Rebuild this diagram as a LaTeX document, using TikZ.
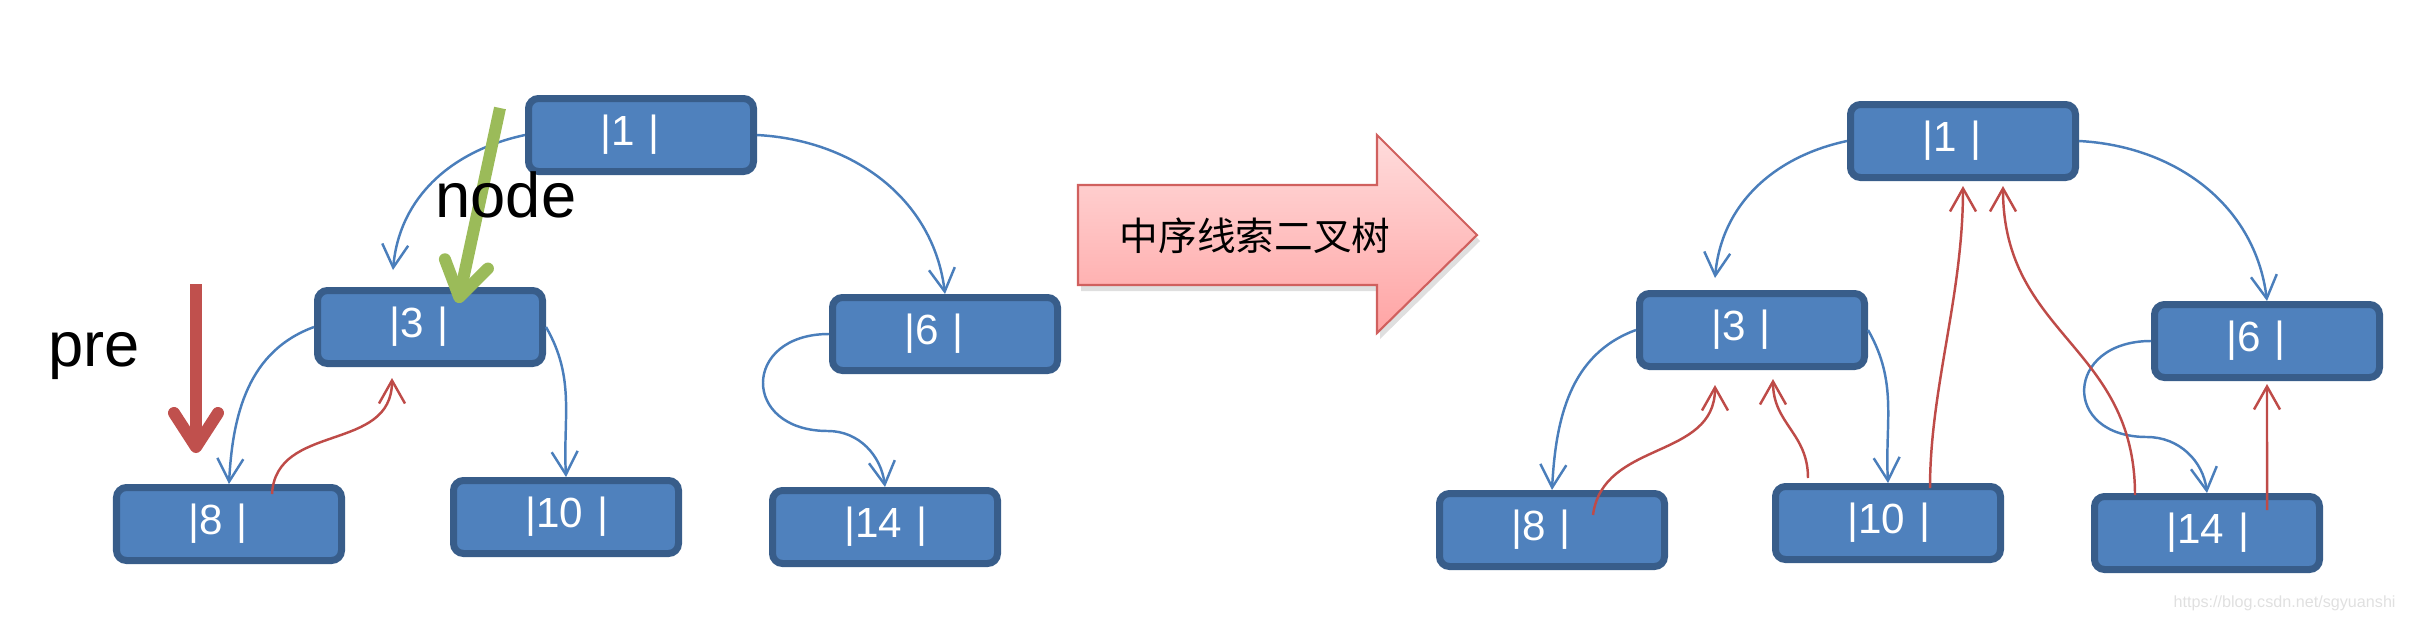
\documentclass[tikz,border=0pt]{standalone}
\usepackage{fontspec}
\setmainfont{Liberation Sans}
\newfontfamily\cjk{Noto Sans CJK SC}
\usetikzlibrary{arrows.meta,shadows}
\definecolor{nodeblue}{HTML}{4F81BD}
\definecolor{nodeedge}{HTML}{385D8A}
\definecolor{linkblue}{HTML}{4A7EBB}
\definecolor{linkred}{HTML}{BE4B48}
\definecolor{prered}{HTML}{C0504D}
\definecolor{nodegreen}{HTML}{9BBB59}
\definecolor{pinktop}{HTML}{FFDCDC}
\definecolor{pinkbot}{HTML}{FFA4A4}
\definecolor{pinkedge}{HTML}{D0605E}
\begin{document}
\begin{tikzpicture}[
		tree/.style={draw=nodeedge, fill=nodeblue, line width=0.07cm, rounded corners=0.1cm, text=white, font=\fontsize{12}{14}\selectfont, align=left, text width=0.81cm, inner xsep=0.72cm, minimum height=0.73cm},
		child/.style={draw=linkblue, line width=0.7pt, -{Straight Barb[length=2.3mm,width=2.6mm]}},
		thread/.style={draw=linkred, line width=0.7pt, -{Straight Barb[length=2.3mm,width=2.6mm]}},
		pointer/.style={line width=0.12cm, -{Straight Barb[round,length=3.4mm,width=4.4mm]}},
		big/.style={font=\fontsize{18}{20}\selectfont, anchor=base}]
		\useasboundingbox (0,0) rectangle (24.18,-6.20);
		\node[tree] (a1) at (6.41,-1.35) {|1~|};
		\node[tree] (a3) at (4.30,-3.27) {|3~|};
		\node[tree] (a8) at (2.29,-5.24) {|8~|};
		\node[tree] (a10) at (5.66,-5.17) {|10~|};
		\node[tree] (a6) at (9.45,-3.34) {|6~|};
		\node[tree] (a14) at (8.85,-5.27) {|14~|};
		\draw[child] (a1.west) to[out=192,in=85] ([xshift=-0.37cm,yshift=0.17cm]a3.north);
		\draw[child] (a1.east) to[out=-3,in=97] (a6.north);
		\draw[child] (a3.west) to[out=200,in=87] (a8.north);
		\draw[child] (a3.east) to[out=-60,in=93] (a10.north);
		\draw[child] (a6.west) to[out=180,in=180,looseness=2.3] ([xshift=-1.17cm,yshift=-0.97cm]a6.center) to[out=0,in=97] (a14.north);
		\draw[thread] ([xshift=0.43cm,yshift=0.30cm]a8.center) .. controls +(0.04,0.72) and +(0,-0.75) .. ([xshift=-0.38cm,yshift=-0.11cm]a3.south);
		\coordinate (pretop) at (1.96,-2.84);
		\coordinate (pretip) at (1.96,-4.53);
		\draw[pointer, prered] (pretop) -- (pretip);
		\coordinate (nodetop) at (5.00,-1.08);
		\coordinate (nodetip) at (4.58,-3.03);
		\draw[pointer, nodegreen] (nodetop) -- (nodetip);
		\node[big] (pre) at (0.94,-3.66) {pre};
		\node[big] (cur) at (5.06,-2.17) {node};
		\draw[draw=pinkedge, line width=0.6pt, top color=pinktop, bottom color=pinkbot, drop shadow={opacity=0.25, shadow xshift=0.03cm, shadow yshift=-0.06cm}] (10.78,-1.85) -- (13.77,-1.85) -- (13.77,-1.35) -- (14.77,-2.35) -- (13.77,-3.33) -- (13.77,-2.85) -- (10.78,-2.85) -- cycle;
		\node[font=\cjk\fontsize{11}{13}\selectfont] (title) at (12.55,-2.36) {中序线索二叉树};
		\node[tree] (b1) at (19.63,-1.41) {|1~|};
		\node[tree] (b3) at (17.52,-3.30) {|3~|};
		\node[tree] (b8) at (15.52,-5.30) {|8~|};
		\node[tree] (b10) at (18.88,-5.23) {|10~|};
		\node[tree] (b6) at (22.67,-3.41) {|6~|};
		\node[tree] (b14) at (22.07,-5.33) {|14~|};
		\draw[child] (b1.west) to[out=192,in=85] ([xshift=-0.37cm,yshift=0.12cm]b3.north);
		\draw[child] (b1.east) to[out=-3,in=97] (b6.north);
		\draw[child] (b3.west) to[out=200,in=87] (b8.north);
		\draw[child] (b3.east) to[out=-60,in=93] (b10.north);
		\draw[child] (b6.west) to[out=180,in=180,looseness=2.3] ([xshift=-1.20cm,yshift=-0.96cm]b6.center) to[out=0,in=97] (b14.north);
		\draw[thread] ([xshift=0.41cm,yshift=0.15cm]b8.center) .. controls +(0.1,0.75) and +(0,-0.75) .. ([xshift=-0.37cm,yshift=-0.15cm]b3.south);
		\draw[thread] ([xshift=-0.80cm,yshift=0.45cm]b10.center) .. controls +(0,0.45) and +(0,-0.45) .. ([xshift=0.21cm,yshift=-0.09cm]b3.south);
		\draw[thread] ([xshift=0.42cm,yshift=0.35cm]b10.center) .. controls +(0,1.0) and +(0,-1.1) .. ([yshift=-0.05cm]b1.south);
		\draw[thread] ([xshift=-0.72cm,yshift=0.38cm]b14.center) .. controls +(0,1.5) and +(0,-1.5) .. ([xshift=0.40cm,yshift=-0.05cm]b1.south);
		\draw[thread] ([xshift=0.60cm,yshift=0.23cm]b14.center) -- ([yshift=-0.03cm]b6.south);
		\node[text=black!12, font=\fontsize{4.6}{5}\selectfont, anchor=base east] (mark) at (24.08,-6.07) {https://blog.csdn.net/sgyuanshi};
	\end{tikzpicture}
\end{document}
